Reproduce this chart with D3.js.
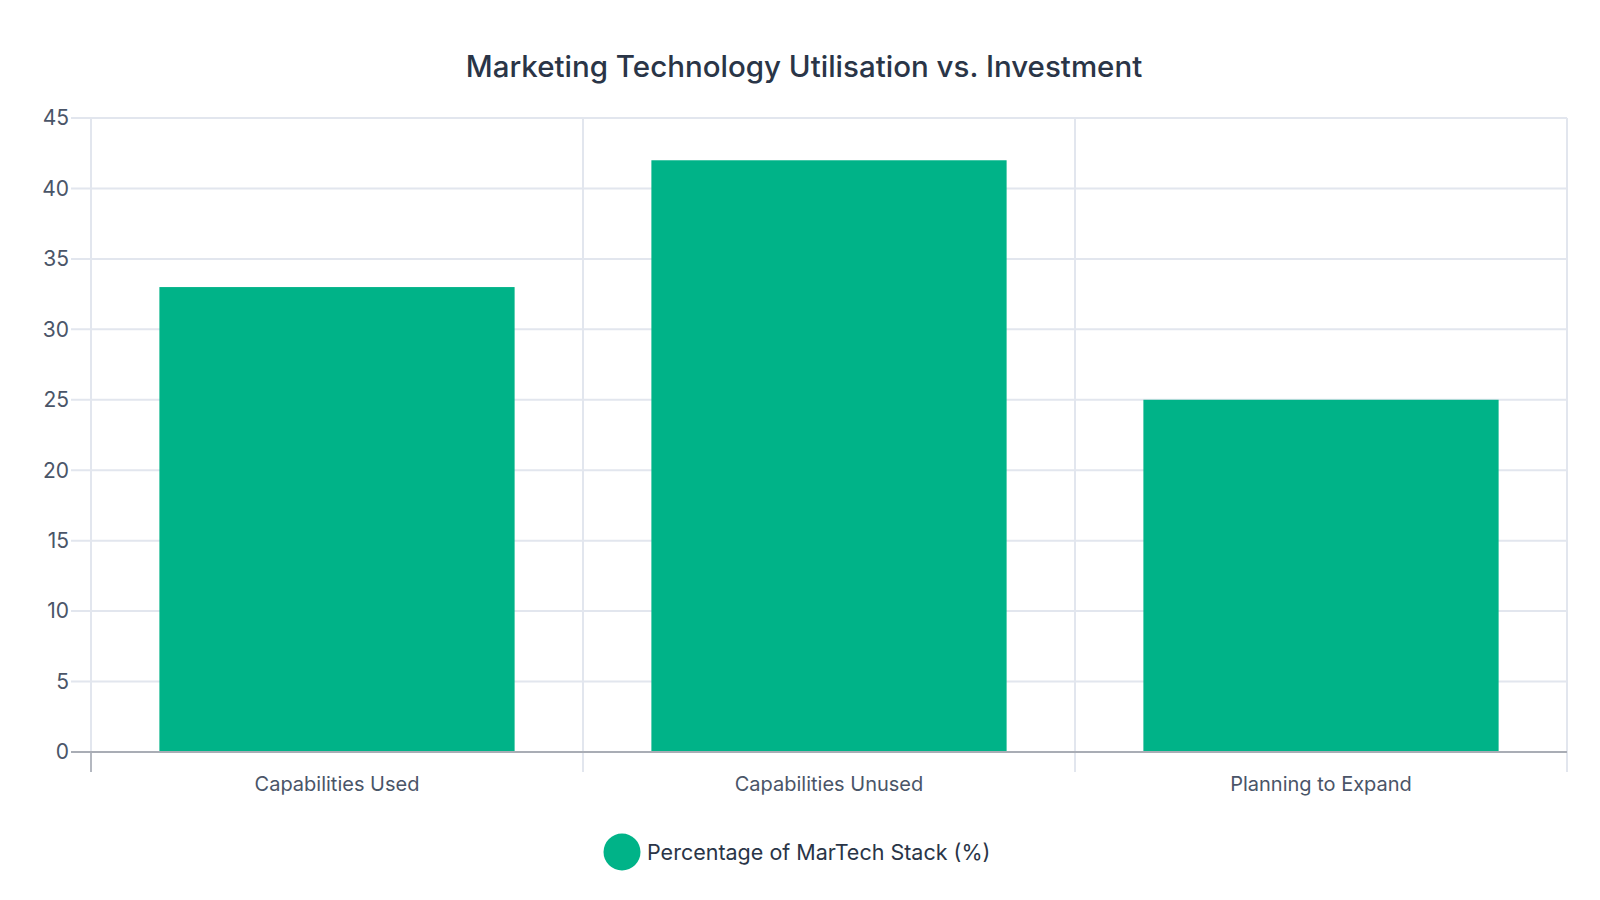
<!DOCTYPE html>
<html>
<head>
<meta charset="utf-8">
<script src="https://cdn.jsdelivr.net/npm/d3@7"></script>
<style>
  body { margin: 0; background: #fff; }
  text { font-family: Inter, "Noto Sans", sans-serif; }
</style>
</head>
<body>
<div id="chart"></div>
<script>
// Chart data
const categories = ["Capabilities Used", "Capabilities Unused", "Planning to Expand"];
const values = [33, 42, 25];
const yTicks = [0, 5, 10, 15, 20, 25, 30, 35, 40, 45];
const seriesName = "Percentage of MarTech Stack (%)";
const title = "Marketing Technology Utilisation vs. Investment";

const width = 1600;
const height = 900;
const margin = { top: 118, right: 33, bottom: 148, left: 91 };

const barColor = "#00b388";
const gridColor = "#e2e6ee";
const textColor = "#4a5568";

const svg = d3.select("#chart").append("svg")
    .attr("width", width)
    .attr("height", height);

// Scales
const x = d3.scaleBand()
    .domain(categories)
    .range([margin.left, width - margin.right])
    .paddingInner(0.278)
    .paddingOuter(0.139);

const y = d3.scaleLinear()
    .domain([0, 45])
    .range([height - margin.bottom, margin.top]);

// Horizontal grid + y ticks
svg.append("g")
    .selectAll("line")
    .data(yTicks.filter(d => d > 0))
    .enter().append("line")
    .attr("x1", margin.left - 20)
    .attr("x2", width - margin.right)
    .attr("y1", d => y(d))
    .attr("y2", d => y(d))
    .attr("stroke", gridColor)
    .attr("stroke-width", 2);

// Vertical grid at category boundaries
const bounds = [margin.left].concat(categories.map(c => x(c) + x.bandwidth() + x.step() * x.paddingInner() / 2));
bounds[bounds.length - 1] = width - margin.right;
svg.append("g")
    .selectAll("line")
    .data(bounds)
    .enter().append("line")
    .attr("x1", d => d)
    .attr("x2", d => d)
    .attr("y1", margin.top)
    .attr("y2", y(0) + 20)
    .attr("stroke", gridColor)
    .attr("stroke-width", 2);

// Darker tick below the first boundary
svg.append("line")
    .attr("x1", margin.left)
    .attr("x2", margin.left)
    .attr("y1", y(0))
    .attr("y2", y(0) + 20)
    .attr("stroke", "#b4b8c0")
    .attr("stroke-width", 2);

// Bars
svg.append("g")
    .selectAll("rect")
    .data(values)
    .enter().append("rect")
    .attr("x", (d, i) => x(categories[i]))
    .attr("y", d => y(d))
    .attr("width", x.bandwidth())
    .attr("height", d => y(0) - y(d))
    .attr("fill", barColor);

// Zero line
svg.append("line")
    .attr("x1", margin.left - 20)
    .attr("x2", width - margin.right)
    .attr("y1", y(0))
    .attr("y2", y(0))
    .attr("stroke", "#a9adb5")
    .attr("stroke-width", 2);

// Y tick labels
svg.append("g")
    .selectAll("text")
    .data(yTicks)
    .enter().append("text")
    .attr("x", margin.left - 22)
    .attr("y", d => y(d))
    .attr("dy", "0.35em")
    .attr("text-anchor", "end")
    .attr("font-size", 21)
    .attr("fill", textColor)
    .text(d => d);

// X labels
svg.append("g")
    .selectAll("text")
    .data(categories)
    .enter().append("text")
    .attr("x", d => x(d) + x.bandwidth() / 2)
    .attr("y", y(0) + 39)
    .attr("text-anchor", "middle")
    .attr("font-size", 20)
    .attr("fill", textColor)
    .text(d => d);

// Title
svg.append("text")
    .attr("x", 804)
    .attr("y", 77)
    .attr("text-anchor", "middle")
    .attr("font-size", 29.5)
    .attr("font-weight", 500)
    .attr("fill", "#2a3547")
    .text(title);

// Legend
const legend = svg.append("g").attr("transform", "translate(622,852)");
legend.append("circle")
    .attr("r", 18.5)
    .attr("fill", barColor);
legend.append("text")
    .attr("x", 25)
    .attr("dy", "0.35em")
    .attr("font-size", 21.5)
    .attr("fill", "#2a3547")
    .text(seriesName);
</script>
</body>
</html>
